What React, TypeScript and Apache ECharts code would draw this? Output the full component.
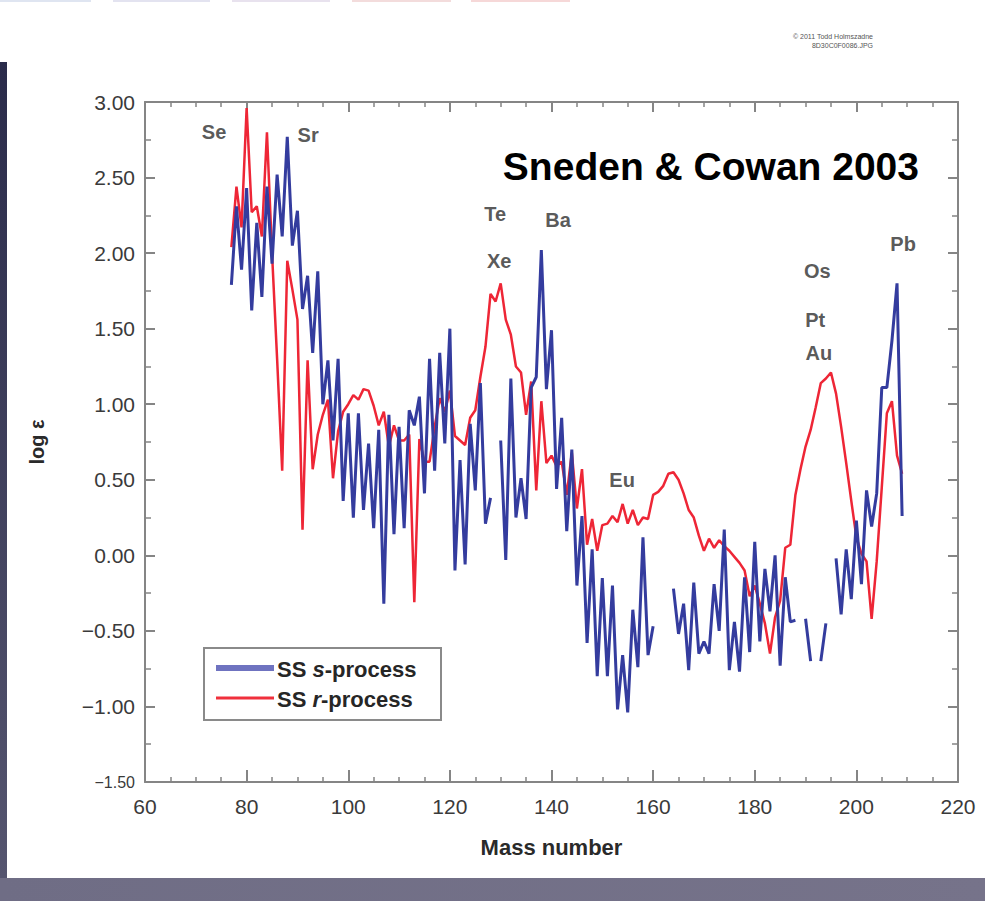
import React, { useEffect, useRef } from "react";
import * as echarts from "echarts";

// Solar-system s- and r-process abundances (log ε) by mass number, starting at A = 77.
const MASS_START = 77;

// null marks mass numbers with no s-process entry (gaps in the curve)
const sProcess: (number | null)[] = [
  1.79, 2.31, 1.89, 2.43, 1.62, 2.2, 1.71, 2.44, 1.93, 2.52, // 77-86
  2.11, 2.77, 2.05, 2.28, 1.63, 1.85, 1.34, 1.88, 1.0, 1.29, // 87-96
  0.76, 1.3, 0.36, 0.94, 0.25, 0.94, 0.3, 0.74, 0.18, 0.83, // 97-106
  -0.32, 0.93, 0.14, 0.85, 0.18, 0.96, 0.86, 1.05, 0.41, 1.3, // 107-116
  0.56, 1.34, 0.74, 1.5, -0.1, 0.63, -0.06, 0.87, 0.43, 1.14, // 117-126
  0.21, 0.38, null, 0.76, -0.03, 1.17, 0.25, 0.51, 0.24, 1.11, // 127-136
  1.18, 2.02, 1.1, 1.49, 0.44, 0.91, 0.16, 0.7, -0.2, 0.26, // 137-146
  -0.58, 0.04, -0.8, -0.15, -0.8, -0.2, -1.02, -0.66, -1.04, -0.36, // 147-156
  -0.74, 0.12, -0.66, -0.47, null, null, null, -0.22, -0.52, -0.32, // 157-166
  -0.76, -0.18, -0.65, -0.57, -0.65, -0.19, -0.5, 0.17, -0.76, -0.44, // 167-176
  -0.77, -0.145, -0.64, 0.09, -0.57, -0.09, -0.37, 0.0, -0.73, -0.145, // 177-186
  -0.44, -0.43, null, -0.42, -0.7, null, -0.7, -0.45, null, -0.02, // 187-196
  -0.39, 0.04, -0.29, 0.23, -0.19, 0.43, 0.19, 0.41, 1.11, 1.11, // 197-206
  1.42, 1.8, 0.26, // 207-209
];

const rProcess: (number | null)[] = [
  2.04, 2.44, 2.17, 2.96, 2.27, 2.31, 2.11, 2.8, 2.0, 1.3, // 77-86
  0.56, 1.95, 1.76, 1.56, 0.17, 1.29, 0.57, 0.8, 0.93, 1.03, // 87-96
  0.51, 0.82, 0.95, 1.0, 1.06, 1.03, 1.1, 1.09, 0.99, 0.86, // 97-106
  0.95, 0.72, 0.86, 0.76, 0.76, 0.8, -0.31, 0.77, 0.62, 0.62, // 107-116
  0.85, 1.04, 0.95, 1.09, 0.79, 0.76, 0.73, 0.91, 0.96, 1.18, // 117-126
  1.38, 1.73, 1.68, 1.8, 1.56, 1.46, 1.25, 1.21, 0.93, 1.15, // 127-136
  0.43, 1.02, 0.61, 0.66, 0.59, 0.62, 0.4, 0.68, 0.31, 0.57, // 137-146
  0.07, 0.24, 0.03, 0.2, 0.21, 0.26, 0.22, 0.34, 0.21, 0.3, // 147-156
  0.2, 0.25, 0.24, 0.4, 0.42, 0.46, 0.54, 0.55, 0.5, 0.41, // 157-166
  0.3, 0.25, 0.13, 0.03, 0.11, 0.05, 0.1, 0.06, 0.03, -0.01, // 167-176
  -0.05, -0.1, -0.27, -0.2, -0.32, -0.45, -0.65, -0.41, -0.3, 0.05, // 177-186
  0.07, 0.4, 0.57, 0.72, 0.83, 0.98, 1.14, 1.17, 1.21, 1.07, // 187-196
  0.85, 0.61, 0.36, 0.12, 0.01, -0.04, -0.42, -0.04, 0.45, 0.94, // 197-206
  1.02, 0.66, 0.54, // 207-209
];

// Element tags placed in data coordinates (mass number, log ε)
const elementLabels = [
  { name: "Se", mass: 73.6, logEps: 2.8 },
  { name: "Sr", mass: 92.1, logEps: 2.78 },
  { name: "Te", mass: 128.9, logEps: 2.26 },
  { name: "Xe", mass: 129.7, logEps: 1.95 },
  { name: "Ba", mass: 141.3, logEps: 2.22 },
  { name: "Eu", mass: 153.9, logEps: 0.5 },
  { name: "Os", mass: 192.3, logEps: 1.88 },
  { name: "Pt", mass: 191.9, logEps: 1.56 },
  { name: "Au", mass: 192.6, logEps: 1.34 },
  { name: "Pb", mass: 209.2, logEps: 2.06 },
];

const X_MIN = 60;
const X_MAX = 220;
const X_STEP = 20;
const Y_MIN = -1.5;
const Y_MAX = 3;
const Y_STEP = 0.5;

const FONT = '"Liberation Sans", Arial, Helvetica, sans-serif';
const AXIS_GRAY = "#858585";
const S_BLUE = "#343c9e";
const R_RED = "#ee2636";

const toPairs = (values: (number | null)[]) =>
  values.map((v, i) => [MASS_START + i, v == null ? "-" : v]);

const fmtY = (v: number) => {
  const txt = (v < 0 ? "\u2212" : "") + Math.abs(v).toFixed(2);
  return v === Y_MIN ? `{s|${txt}}` : txt;
};

export default function App() {
  const ref = useRef<HTMLDivElement>(null);

  useEffect(() => {
    if (!ref.current) return;
    const chart = echarts.init(ref.current, undefined, { renderer: "svg" });

    const axisLine = { show: true, onZero: false, lineStyle: { color: AXIS_GRAY, width: 2 } };
    const xTick = { show: true, inside: true, length: 12, lineStyle: { color: AXIS_GRAY, width: 2 } };
    const xMinor = { show: true, splitNumber: 4, length: 5, lineStyle: { color: AXIS_GRAY, width: 1.5 } };
    const yTick = { show: true, inside: true, length: 10, lineStyle: { color: AXIS_GRAY, width: 2 } };
    const yMinor = { show: true, splitNumber: 2, length: 6, lineStyle: { color: AXIS_GRAY, width: 1.5 } };

    chart.setOption({
      animation: false,
      backgroundColor: "#ffffff",
      grid: { left: 145, right: 27, top: 102, bottom: 119, containLabel: false },
      xAxis: [
        {
          type: "value",
          min: X_MIN,
          max: X_MAX,
          interval: X_STEP,
          position: "bottom",
          axisLine,
          axisTick: xTick,
          minorTick: xMinor,
          splitLine: { show: false },
          minorSplitLine: { show: false },
          axisLabel: { color: "#3a3a3a", fontSize: 21, margin: 14, fontFamily: FONT },
          name: "Mass number",
          nameLocation: "middle",
          nameGap: 54,
          nameTextStyle: { color: "#2a2a2a", fontSize: 22, fontWeight: "bold", fontFamily: FONT },
        },
        {
          type: "value",
          min: X_MIN,
          max: X_MAX,
          interval: X_STEP,
          position: "top",
          axisLine,
          axisTick: { ...xTick, length: 10 },
          minorTick: xMinor,
          splitLine: { show: false },
          axisLabel: { show: false },
        },
      ],
      yAxis: [
        {
          type: "value",
          min: Y_MIN,
          max: Y_MAX,
          interval: Y_STEP,
          position: "left",
          axisLine,
          axisTick: yTick,
          minorTick: yMinor,
          splitLine: { show: false },
          minorSplitLine: { show: false },
          axisLabel: {
            color: "#3a3a3a",
            fontSize: 21,
            margin: 10,
            fontFamily: FONT,
            formatter: fmtY,
            rich: { s: { fontSize: 16, color: "#3a3a3a", fontFamily: FONT } },
          },
          name: "log \u03b5",
          nameLocation: "middle",
          nameRotate: 90,
          nameGap: 98,
          nameTextStyle: { color: "#2a2a2a", fontSize: 20, fontWeight: "bold", fontFamily: FONT },
        },
        {
          type: "value",
          min: Y_MIN,
          max: Y_MAX,
          interval: Y_STEP,
          position: "right",
          axisLine,
          axisTick: yTick,
          minorTick: yMinor,
          splitLine: { show: false },
          axisLabel: { show: false },
        },
      ],
      series: [
        {
          name: "SS r-process",
          type: "line",
          data: toPairs(rProcess),
          showSymbol: false,
          symbol: "none",
          connectNulls: false,
          lineStyle: { color: R_RED, width: 2.5 },
          z: 2,
          silent: true,
        },
        {
          name: "SS s-process",
          type: "line",
          data: toPairs(sProcess),
          showSymbol: false,
          symbol: "none",
          connectNulls: false,
          lineStyle: { color: S_BLUE, width: 3 },
          z: 3,
          silent: true,
        },
        {
          name: "elements",
          type: "scatter",
          symbolSize: 0,
          silent: true,
          z: 4,
          data: elementLabels.map((e) => ({ name: e.name, value: [e.mass, e.logEps] })),
          label: {
            show: true,
            position: "inside",
            formatter: (p: any) => p.name,
            color: "#2e2e2e",
            fontSize: 20,
            fontWeight: "bold",
            fontFamily: FONT,
          },
        },
      ],
      graphic: [
        // page frame decorations
        {
          type: "rect",
          z: -10,
          shape: { x: 0, y: 62, width: 7, height: 816 },
          style: {
            fill: new echarts.graphic.LinearGradient(0, 0, 0, 1, [
              { offset: 0, color: "#2a2b4a" },
              { offset: 1, color: "#55556f" },
            ]),
          },
        },
        {
          type: "rect",
          z: -10,
          shape: { x: 0, y: 878, width: 985, height: 23 },
          style: {
            fill: new echarts.graphic.LinearGradient(0, 0, 1, 0, [
              { offset: 0, color: "#6f6d85" },
              { offset: 1, color: "#76738a" },
            ]),
          },
        },
        { type: "rect", z: -10, shape: { x: 0, y: 0, width: 91, height: 2 }, style: { fill: "#dfe5f1" } },
        { type: "rect", z: -10, shape: { x: 113, y: 0, width: 97, height: 2 }, style: { fill: "#e3e3f0" } },
        { type: "rect", z: -10, shape: { x: 232, y: 0, width: 98, height: 2 }, style: { fill: "#e8e2ee" } },
        { type: "rect", z: -10, shape: { x: 352, y: 0, width: 99, height: 2 }, style: { fill: "#f3dcdc" } },
        { type: "rect", z: -10, shape: { x: 471, y: 0, width: 99, height: 2 }, style: { fill: "#f6d8d8" } },
        {
          type: "text",
          x: 873,
          y: 36,
          style: {
            text: "\u00a9 2011 Todd Holmszadne",
            fill: "#555",
            fontSize: 7,
            fontFamily: FONT,
            textAlign: "right",
            align: "right",
            textVerticalAlign: "middle",
            verticalAlign: "middle",
          },
        },
        {
          type: "text",
          x: 873,
          y: 45,
          style: {
            text: "8D30C0F0086.JPG",
            fill: "#555",
            fontSize: 7,
            fontFamily: FONT,
            textAlign: "right",
            align: "right",
            textVerticalAlign: "middle",
            verticalAlign: "middle",
          },
        },
        // citation
        {
          type: "text",
          x: 919,
          y: 166,
          z: 5,
          style: {
            text: "Sneden & Cowan 2003",
            fill: "#000000",
            fontSize: 39,
            fontWeight: "bold",
            fontFamily: FONT,
            textAlign: "right",
            align: "right",
            textVerticalAlign: "middle",
            verticalAlign: "middle",
          },
        },
        // legend
        {
          type: "group",
          z: 10,
          children: [
            {
              type: "rect",
              shape: { x: 204, y: 648, width: 237, height: 72 },
              style: { fill: "#ffffff", stroke: "#8a8a8a", lineWidth: 2 },
            },
            {
              type: "line",
              shape: { x1: 216, y1: 668, x2: 274, y2: 668 },
              style: { stroke: "#6f73c0", lineWidth: 6 },
            },
            {
              type: "line",
              shape: { x1: 216, y1: 698, x2: 274, y2: 698 },
              style: { stroke: "#f0303c", lineWidth: 3 },
            },
            {
              type: "text",
              x: 277,
              y: 669,
              style: {
                text: "{a|SS }{b|s}{a|-process}",
                rich: {
                  a: { fontSize: 22, fontWeight: "bold", fill: "#262626", fontFamily: FONT },
                  b: { fontSize: 22, fontWeight: "bold", fontStyle: "italic", fill: "#262626", fontFamily: FONT },
                },
                textAlign: "left",
                align: "left",
                textVerticalAlign: "middle",
                verticalAlign: "middle",
              },
            },
            {
              type: "text",
              x: 277,
              y: 699,
              style: {
                text: "{a|SS }{b|r}{a|-process}",
                rich: {
                  a: { fontSize: 22, fontWeight: "bold", fill: "#262626", fontFamily: FONT },
                  b: { fontSize: 22, fontWeight: "bold", fontStyle: "italic", fill: "#262626", fontFamily: FONT },
                },
                textAlign: "left",
                align: "left",
                textVerticalAlign: "middle",
                verticalAlign: "middle",
              },
            },
          ],
        },
      ],
    });

    return () => chart.dispose();
  }, []);

  return (
    <div
      ref={ref}
      style={{ position: "fixed", left: 0, top: 0, width: 985, height: 901, background: "#ffffff" }}
    />
  );
}
